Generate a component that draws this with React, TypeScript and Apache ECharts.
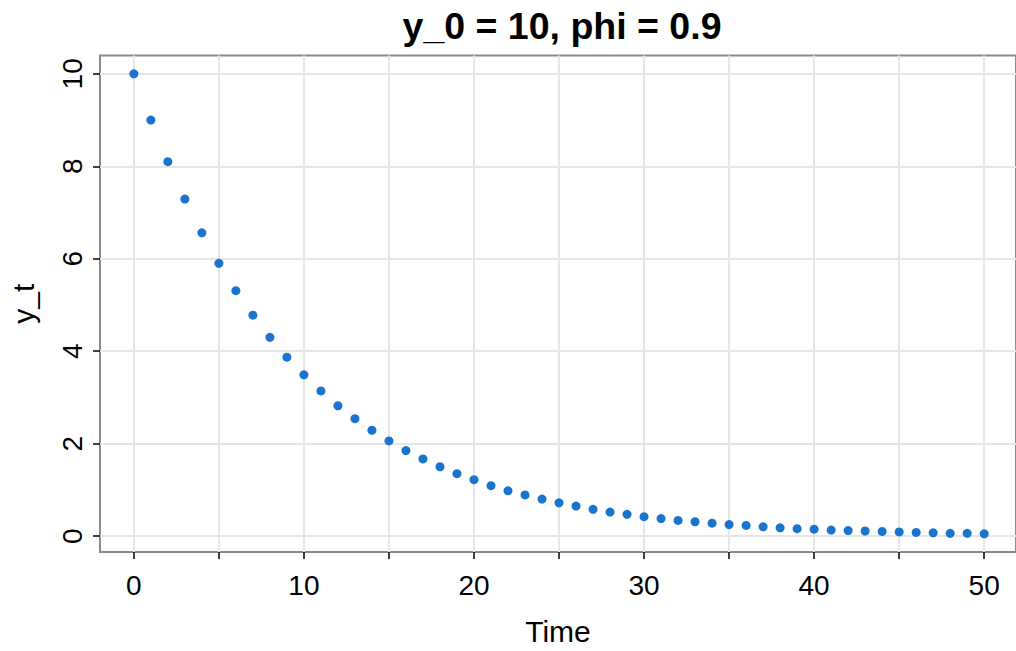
import React, { useEffect, useRef } from "react";
import * as echarts from "echarts";

const titleText = "y_0 = 10, phi = 0.9";
const xName = "Time";
const yName = "y_t";
const timeSteps = [
  0, 1, 2, 3, 4, 5, 6, 7, 8, 9, 10, 11, 12, 13, 14, 15, 16, 17, 18, 19, 20,
  21, 22, 23, 24, 25, 26, 27, 28, 29, 30, 31, 32, 33, 34, 35, 36, 37, 38, 39,
  40, 41, 42, 43, 44, 45, 46, 47, 48, 49, 50,
];
const yValues = [
  10, 9, 8.1, 7.29, 6.56, 5.9, 5.31, 4.78, 4.3, 3.87, 3.49, 3.14, 2.82, 2.54,
  2.29, 2.06, 1.85, 1.67, 1.5, 1.35, 1.22, 1.09, 0.98, 0.89, 0.8, 0.72, 0.65,
  0.58, 0.52, 0.47, 0.42, 0.38, 0.34, 0.31, 0.28, 0.25, 0.23, 0.2, 0.18, 0.16,
  0.15, 0.13, 0.12, 0.11, 0.1, 0.09, 0.08, 0.07, 0.06, 0.06, 0.05,
];
const xTicks = [0, 5, 10, 15, 20, 25, 30, 35, 40, 45, 50];
const xLabels = [0, 10, 20, 30, 40, 50];
const yTicks = [0, 2, 4, 6, 8, 10];

const FONT = "Liberation Sans, Arial, Helvetica, sans-serif";

export default function App() {
  const ref = useRef<HTMLDivElement>(null);
  useEffect(() => {
    if (!ref.current) return;
    const chart = echarts.init(ref.current, undefined, { renderer: "svg" });
    chart.setOption({
      animation: false,
      backgroundColor: "#ffffff",
      title: {
        text: titleText,
        left: 557,
        top: 2,
        textAlign: "center",
        textStyle: {
          fontFamily: FONT,
          fontSize: 37.5,
          fontWeight: "bold",
          color: "#000000",
        },
      },
      grid: {
        left: 99,
        top: 55.5,
        width: 920,
        height: 500,
        show: true,
        borderColor: "#8a8a8a",
        borderWidth: 2,
        backgroundColor: "transparent",
        containLabel: false,
      },
      xAxis: {
        type: "value",
        min: -1.99,
        max: 51.87,
        name: xName,
        nameLocation: "middle",
        nameGap: 64,
        nameTextStyle: { fontFamily: FONT, fontSize: 30, color: "#000" },
        axisLine: { show: false, onZero: false },
        axisTick: {
          show: true,
          length: 7,
          customValues: xTicks,
          lineStyle: { color: "#000", width: 1.5 },
        },
        axisLabel: {
          customValues: xLabels,
          fontFamily: FONT,
          fontSize: 28,
          color: "#000",
          margin: 19,
        },
        splitLine: { show: true, lineStyle: { color: "#e6e6e6", width: 2 } },
      },
      yAxis: {
        type: "value",
        min: -0.344,
        max: 10.397,
        name: yName,
        nameLocation: "middle",
        nameRotate: 90,
        nameGap: 62,
        nameTextStyle: { fontFamily: FONT, fontSize: 30, color: "#000" },
        axisLine: { show: false, onZero: false },
        axisTick: {
          show: true,
          length: 7,
          customValues: yTicks,
          lineStyle: { color: "#000", width: 1.5 },
        },
        axisLabel: {
          customValues: yTicks,
          rotate: 90,
          fontFamily: FONT,
          fontSize: 28,
          color: "#000",
          margin: 14,
        },
        splitLine: { show: true, lineStyle: { color: "#e6e6e6", width: 2 } },
      },
      series: [
        {
          type: "scatter",
          data: timeSteps.map((t, i) => [t, yValues[i]]),
          symbol: "circle",
          symbolSize: 9,
          itemStyle: { color: "#1874CD", opacity: 1 },
        },
      ],
    });
    return () => chart.dispose();
  }, []);
  return (
    <div
      ref={ref}
      style={{ position: "fixed", left: 0, top: 0, width: 1016, height: 651 }}
    />
  );
}
